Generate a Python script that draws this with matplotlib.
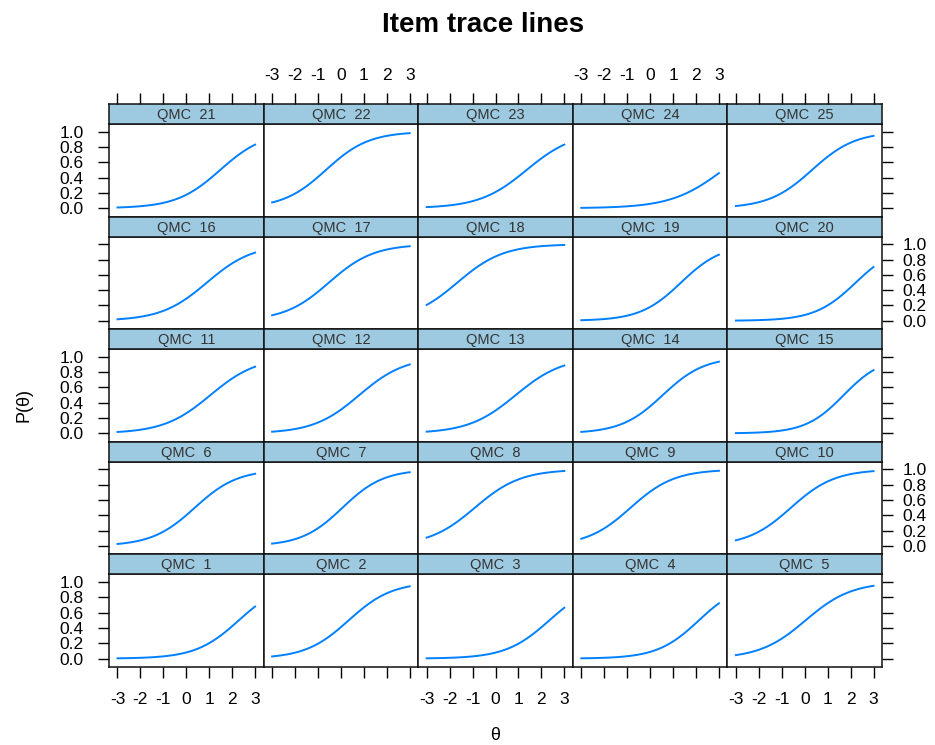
import numpy as np
import matplotlib
matplotlib.use("Agg")
import matplotlib.pyplot as plt

plt.rcParams['font.family'] = ['Liberation Sans', 'DejaVu Sans']
plt.rcParams['axes.unicode_minus'] = False

# 2PL item parameters for QMC 1..25 (slope a, difficulty b)
item_names = ["QMC  %d" % i for i in range(1, 26)]
slope = [1.065, 1.06, 1.05, 1.10, 1.00,
         1.07, 1.12, 1.00, 1.05, 1.05,
         0.98, 1.00, 0.97, 1.10, 1.20,
         1.00, 1.03, 1.00, 1.12, 1.12,
         1.045, 1.07, 0.97, 0.88, 1.06]
difficulty = [2.29, 0.34, 2.35, 2.13, 0.04,
              0.37, 0.07, -0.90, -0.85, -0.60,
              1.05, 0.80, 0.88, 0.55, 1.70,
              0.90, -0.52, -1.66, 1.35, 2.23,
              1.48, -0.65, 1.36, 3.19, 0.32]
x_ticks = [-3, -2, -1, 0, 1, 2, 3]
y_ticks = [0.0, 0.2, 0.4, 0.6, 0.8, 1.0]

theta = np.linspace(-3, 3, 121)

W, H = 935, 745
fig = plt.figure(figsize=(W / 100, H / 100), dpi=100)

# panel grid in pixels
left, top = 109, 104
pw = 154.6
strip_h = 20
row_h = 112.6
ncol, nrow = 5, 5

strip_col = '#9dcae1'
line_col = '#0080ff'
tick_len = 8
lab_size = 12.5


def fx(px):
    return px / W


def fy(py):
    return 1 - py / H


for r in range(nrow):
    for c in range(ncol):
        k = (nrow - 1 - r) * ncol + c
        x0 = left + c * pw
        s_top = top + r * row_h
        p_top = s_top + strip_h
        p_bot = s_top + row_h

        ax = fig.add_axes([fx(x0), fy(p_bot), pw / W, (p_bot - p_top) / H])
        st = fig.add_axes([fx(x0), fy(p_top), pw / W, strip_h / H])

        p = 1 / (1 + np.exp(-slope[k] * (theta - difficulty[k])))
        ax.plot(theta, p, color=line_col, lw=1.4)
        ax.set_xlim(-3.37, 3.37)
        ax.set_ylim(-0.11, 1.10)
        ax.set_xticks(x_ticks)
        ax.set_yticks(y_ticks)
        ax.set_yticklabels(["%.1f" % v for v in y_ticks])

        bottom_row = r == nrow - 1
        ax.tick_params(axis='x', direction='out', length=tick_len, width=1.0,
                       labelsize=lab_size, pad=10,
                       bottom=bottom_row, top=False,
                       labelbottom=bottom_row and c % 2 == 0, labeltop=False)
        ax.tick_params(axis='y', direction='out', length=tick_len, width=1.0,
                       labelsize=lab_size,
                       left=(c == 0), right=(c == ncol - 1),
                       labelleft=(c == 0 and r % 2 == 0),
                       labelright=(c == ncol - 1 and r % 2 == 1))
        if c == 0:
            ax.tick_params(axis='y', pad=10)
        else:
            ax.tick_params(axis='y', pad=7)

        for sp in ax.spines.values():
            sp.set_linewidth(1.1)
            sp.set_color('#111111')

        # strip with item name
        st.set_facecolor(strip_col)
        st.set_xlim(-3.37, 3.37)
        st.set_yticks([])
        st.set_xticks(x_ticks)
        st.tick_params(axis='x', direction='out', length=tick_len, width=1.0,
                       labelsize=lab_size, pad=7,
                       bottom=False, labelbottom=False,
                       top=(r == 0), labeltop=(r == 0 and c % 2 == 1))
        for sp in st.spines.values():
            sp.set_linewidth(1.1)
            sp.set_color('#111111')
        st.text(0.5, 0.45, item_names[k], transform=st.transAxes,
                ha='center', va='center', fontsize=10.5, color='#333333')

fig.text(fx(483), fy(25), "Item trace lines", ha='center', va='center',
         fontsize=20, fontweight='bold')
fig.text(fx(24), fy(405), "P(\u03b8)", ha='center', va='center',
         rotation=90, fontsize=13)
fig.text(fx(495), fy(735), "\u03b8", ha='center', va='center', fontsize=13)

fig.savefig("out.png", dpi=100)
